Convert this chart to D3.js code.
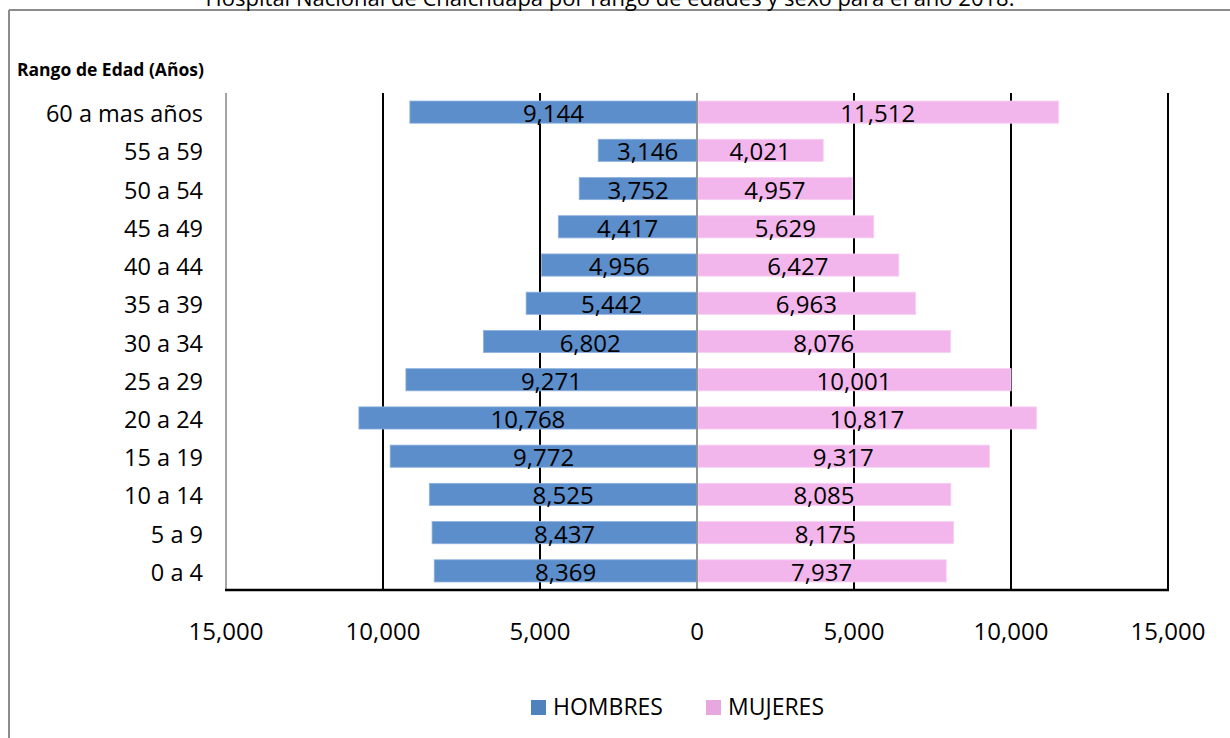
<!DOCTYPE html>
<html>
<head>
<meta charset="utf-8">
<script src="https://cdn.jsdelivr.net/npm/d3@7"></script>
<style>
  html, body { margin: 0; padding: 0; background: #fff; }
  svg { display: block; }
  text { font-family: "Open Sans", sans-serif; fill: #000; }
</style>
</head>
<body>
<svg id="chart" width="1230" height="738"></svg>
<script>
const title = "Hospital Nacional de Chalchuapa por rango de edades y sexo para el año 2018.";
const yAxisTitle = "Rango de Edad (Años)";
const categories = ["0 a 4","5 a 9","10 a 14","15 a 19","20 a 24","25 a 29","30 a 34","35 a 39","40 a 44","45 a 49","50 a 54","55 a 59","60 a mas años"];
const hombres = [8369, 8437, 8525, 9772, 10768, 9271, 6802, 5442, 4956, 4417, 3752, 3146, 9144];
const mujeres = [7937, 8175, 8085, 9317, 10817, 10001, 8076, 6963, 6427, 5629, 4957, 4021, 11512];
const tickValues = [-15000, -10000, -5000, 0, 5000, 10000, 15000];
const seriesNames = ["HOMBRES", "MUJERES"];

const colors = { hombres: "#5b8ecb", mujeres: "#f3b6ec", legH: "#4f81bd", legM: "#e6a8de" };

const svg = d3.select("#chart");
const plot = { left: 226, right: 1168, top: 93, bottom: 590 };

// outer chart border (only top & left visible)
svg.append("line").attr("x1", 9).attr("x2", 1230).attr("y1", 10).attr("y2", 10)
  .attr("stroke", "#8c8c8c").attr("stroke-width", 2);
svg.append("line").attr("x1", 9).attr("x2", 9).attr("y1", 10).attr("y2", 738)
  .attr("stroke", "#8c8c8c").attr("stroke-width", 2);

// title (clipped at top, as in the reference)
svg.append("text").attr("x", 610).attr("y", 6).attr("text-anchor", "middle")
  .style("font-size", "22px").text(title);

// axis title
svg.append("text").attr("x", 17).attr("y", 76)
  .style("font-size", "17.5px").style("font-weight", "bold").text(yAxisTitle);

const x = d3.scaleLinear().domain([-15000, 15000]).range([plot.left, plot.right]);
const y = d3.scaleBand().domain(categories.slice().reverse())
  .range([plot.top, plot.bottom]).paddingInner(0.42).paddingOuter(0.21);

const fmt = d3.format(",");

// vertical gridlines
svg.append("g").selectAll("line").data(tickValues).join("line")
  .attr("x1", d => x(d)).attr("x2", d => x(d))
  .attr("y1", plot.top).attr("y2", plot.bottom)
  .attr("stroke", d => (d === 0 || d === -15000) ? "#8f8f8f" : "#000")
  .attr("stroke-width", d => (d === 0 || d === -15000) ? 1.6 : 2);

// bars
const rows = categories.map((c, i) => ({ c, h: hombres[i], m: mujeres[i] }));
const g = svg.append("g");
g.selectAll("rect.h").data(rows).join("rect").attr("class", "h")
  .attr("x", d => x(-d.h)).attr("width", d => x(0) - x(-d.h))
  .attr("y", d => y(d.c)).attr("height", y.bandwidth())
  .attr("fill", colors.hombres).attr("stroke", "#8fb2de").attr("stroke-width", 0.8);
g.selectAll("rect.m").data(rows).join("rect").attr("class", "m")
  .attr("x", x(0) + 1).attr("width", d => x(d.m) - x(0) - 1)
  .attr("y", d => y(d.c)).attr("height", y.bandwidth())
  .attr("fill", colors.mujeres).attr("stroke", "#f7d0f2").attr("stroke-width", 0.8);

// center line on top
svg.append("line").attr("x1", x(0)).attr("x2", x(0)).attr("y1", plot.top).attr("y2", plot.bottom)
  .attr("stroke", "#8f8f8f").attr("stroke-width", 1.6);

// data labels
g.selectAll("text.lh").data(rows).join("text").attr("class", "lh")
  .attr("x", d => (x(-d.h) + x(0)) / 2)
  .attr("y", d => y(d.c) + y.bandwidth() / 2 + 10)
  .attr("text-anchor", "middle").style("font-size", "24px").text(d => fmt(d.h));
g.selectAll("text.lm").data(rows).join("text").attr("class", "lm")
  .attr("x", d => (x(0) + x(d.m)) / 2)
  .attr("y", d => y(d.c) + y.bandwidth() / 2 + 10)
  .attr("text-anchor", "middle").style("font-size", "24px").text(d => fmt(d.m));

// bottom axis line
svg.append("line").attr("x1", plot.left - 1).attr("x2", plot.right + 1)
  .attr("y1", plot.bottom).attr("y2", plot.bottom)
  .attr("stroke", "#000").attr("stroke-width", 2.5);

// x tick labels
svg.append("g").selectAll("text").data(tickValues).join("text")
  .attr("x", d => x(d)).attr("y", 640).attr("text-anchor", "middle")
  .style("font-size", "24px").text(d => fmt(Math.abs(d)));

// category labels
svg.append("g").selectAll("text").data(categories).join("text")
  .attr("x", 203).attr("y", d => y(d) + y.bandwidth() / 2 + 10)
  .attr("text-anchor", "end").style("font-size", "23.5px").text(d => d);

// legend
const leg = svg.append("g");
const legItems = [
  { name: seriesNames[0], color: colors.legH, x: 531 },
  { name: seriesNames[1], color: colors.legM, x: 706 }
];
legItems.forEach(it => {
  leg.append("rect").attr("x", it.x).attr("y", 700).attr("width", 15).attr("height", 15).attr("fill", it.color);
  leg.append("text").attr("x", it.x + 22).attr("y", 715).style("font-size", "23px").text(it.name);
});
</script>
</body>
</html>
